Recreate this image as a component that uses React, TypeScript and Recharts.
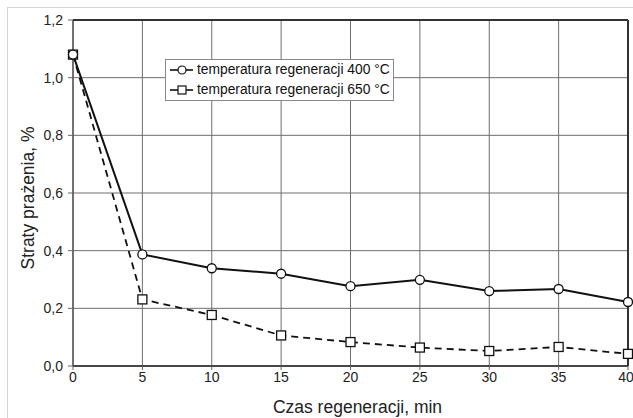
import { LineChart, Line, XAxis, YAxis, CartesianGrid, ReferenceLine } from 'recharts'

const czas = [0, 5, 10, 15, 20, 25, 30, 35, 40]
const straty400 = [1.08, 0.387, 0.339, 0.32, 0.277, 0.299, 0.26, 0.267, 0.222]
const straty650 = [1.08, 0.231, 0.177, 0.106, 0.083, 0.064, 0.052, 0.066, 0.042]
const xTicks = [0, 5, 10, 15, 20, 25, 30, 35, 40]
const yTicks = [0, 0.2, 0.4, 0.6, 0.8, 1.0, 1.2]
const seriesNames = ['temperatura regeneracji 400 °C', 'temperatura regeneracji 650 °C']

const data = czas.map((t, i) => ({ t, s400: straty400[i], s650: straty650[i] }))

const FONT = '"Liberation Sans", Arial, sans-serif'

const SquareDot = (props: any) => {
  const { cx, cy } = props
  if (cx == null || cy == null) return null
  return <rect x={cx - 4.5} y={cy - 4.5} width={9} height={9} fill="#fff" stroke="#111" strokeWidth={1.3} />
}

const LegendBox = () => (
  <div
    style={{
      position: 'absolute',
      left: 165,
      top: 59,
      width: 227,
      background: '#fff',
      border: '1px solid #8a8a8a',
      fontFamily: FONT,
      fontSize: 13.8,
      color: '#111',
      lineHeight: '20px',
    }}
  >
    {seriesNames.map((name, i) => (
      <div key={name} style={{ display: 'flex', alignItems: 'center', whiteSpace: 'nowrap', height: 20 }}>
        <svg width={27} height={12} style={{ marginLeft: 3, marginRight: 1 }}>
          <line x1={1} y1={6} x2={24} y2={6} stroke="#111" strokeWidth={1.6} />
          {i === 0 ? (
            <circle cx={13} cy={6} r={4} fill="#fff" stroke="#111" strokeWidth={1.2} />
          ) : (
            <rect x={9} y={2} width={8} height={8} fill="#fff" stroke="#111" strokeWidth={1.2} />
          )}
        </svg>
        <span>{name}</span>
      </div>
    ))}
  </div>
)

const YTitle = (props: any) => {
  const { viewBox } = props
  const x = 28
  const y = viewBox.y + viewBox.height / 2 + 5
  return (
    <text x={x} y={y} transform={`rotate(-90, ${x}, ${y})`} textAnchor="middle" dominantBaseline="central" fontSize={17.5} fill="#222">
      Straty prażenia, %
    </text>
  )
}

export default function App() {
  return (
    <div style={{ position: 'absolute', left: 0, top: 0, width: 633, height: 418, overflow: 'hidden', background: '#fff' }}>
      {/* light outer frame, cut by the picture edge on the right and bottom */}
      <div style={{ position: 'absolute', left: 7, top: 7, width: 700, height: 500, borderTop: '1px solid #d4d4d4', borderLeft: '1px solid #d4d4d4' }} />
      <LineChart
        width={633}
        height={418}
        data={data}
        margin={{ top: 20, right: 5, bottom: 0, left: 0 }}
        style={{ position: 'absolute', left: 0, top: 0, fontFamily: FONT }}
      >
        <CartesianGrid stroke="#6e6e6e" strokeWidth={1} />
        <XAxis
          dataKey="t"
          type="number"
          domain={[0, 40]}
          ticks={xTicks}
          height={52}
          axisLine={{ stroke: '#222', strokeWidth: 1.5 }}
          tickLine={{ stroke: '#666' }}
          tickSize={4}
          tick={{ fontSize: 14, fill: '#222' }}
          label={{ value: 'Czas regeneracji, min', position: 'insideBottom', offset: 5, dx: 7, style: { fontSize: 17.5, fill: '#222' } }}
        />
        <YAxis
          type="number"
          domain={[0, 1.2]}
          ticks={yTicks}
          width={73}
          axisLine={{ stroke: '#444', strokeWidth: 1.2 }}
          tickLine={{ stroke: '#666' }}
          tickSize={5}
          tickMargin={5}
          tick={{ fontSize: 14, fill: '#222' }}
          tickFormatter={(v: number) => v.toFixed(1).replace('.', ',')}
          label={<YTitle />}
        />
        <ReferenceLine y={1.2} stroke="#333" strokeWidth={2} />
        <ReferenceLine x={40} stroke="#333" strokeWidth={2} />
        <Line
          dataKey="s650"
          name={seriesNames[1]}
          stroke="#111"
          strokeWidth={1.8}
          strokeDasharray="7 5"
          dot={<SquareDot />}
          isAnimationActive={false}
        />
        <Line
          dataKey="s400"
          name={seriesNames[0]}
          stroke="#111"
          strokeWidth={2}
          dot={{ r: 4.5, fill: '#fff', stroke: '#111', strokeWidth: 1.3 }}
          isAnimationActive={false}
        />
      </LineChart>
      <LegendBox />
    </div>
  )
}
